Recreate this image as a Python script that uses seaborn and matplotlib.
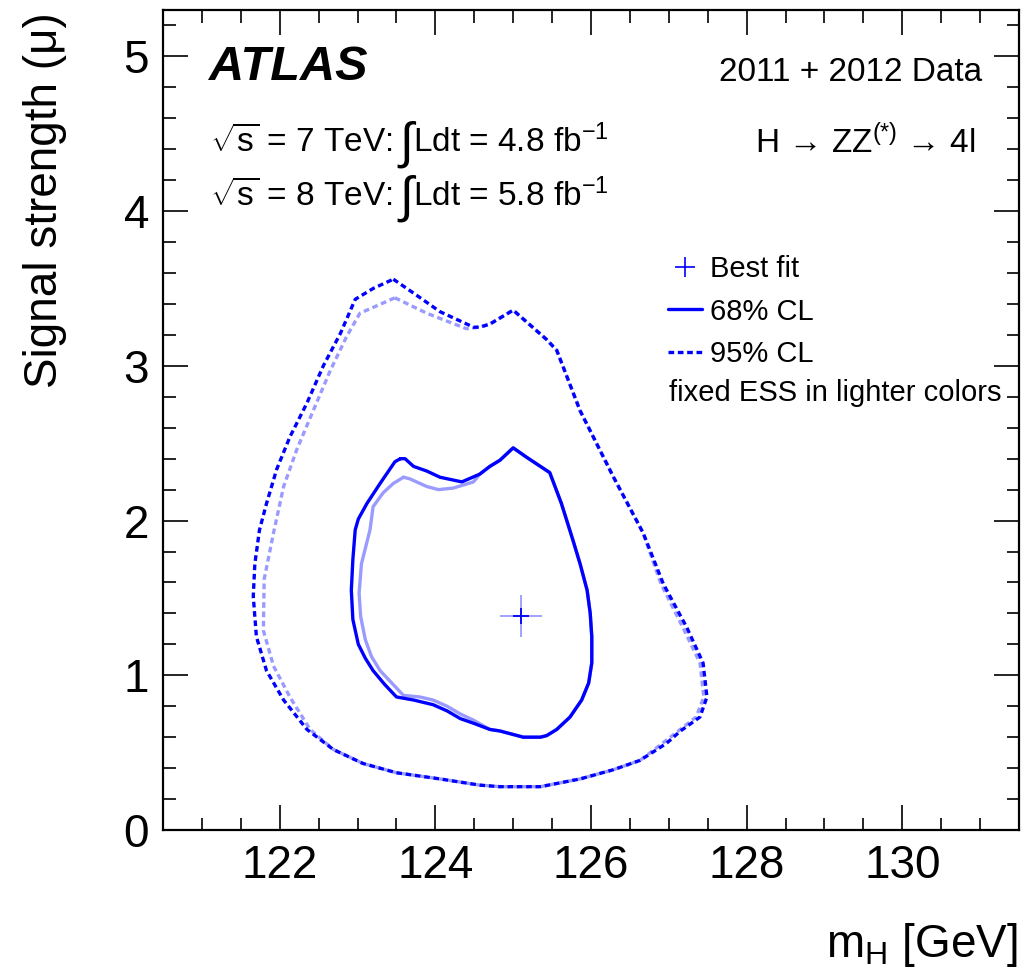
import numpy as np
import pandas as pd
import matplotlib
matplotlib.use("Agg")
import matplotlib.pyplot as plt
from matplotlib.lines import Line2D
import seaborn as sns

# ---------------- data ----------------
best_fit_mh = [125.1]
best_fit_mu = [1.38]

# 68% CL contour (nominal)
mh68 = [123.55, 123.61, 123.72, 123.89, 124.06, 124.34, 124.57, 124.70, 124.83, 125.00,
        125.17, 125.35, 125.47, 125.62, 125.77, 125.86, 125.95, 125.99, 126.01, 126.01,
        125.97, 125.88, 125.73, 125.56, 125.43, 125.35, 125.13, 124.83, 124.70, 124.49,
        124.32, 124.15, 123.97, 123.72, 123.50, 123.35, 123.20, 123.10, 123.01, 122.94,
        122.92, 122.94, 122.97, 123.01, 123.12, 123.29, 123.48, 123.55]
mu68 = [2.40, 2.40, 2.35, 2.32, 2.28, 2.25, 2.30, 2.35, 2.39, 2.47,
        2.41, 2.35, 2.31, 2.11, 1.87, 1.72, 1.55, 1.40, 1.25, 1.08,
        0.95, 0.84, 0.73, 0.65, 0.61, 0.60, 0.60, 0.64, 0.65, 0.69,
        0.72, 0.77, 0.81, 0.84, 0.86, 0.94, 1.03, 1.11, 1.20, 1.36,
        1.55, 1.75, 1.94, 2.01, 2.11, 2.24, 2.38, 2.40]

# 68% CL contour (fixed ESS in lighter colour)
mh68_fix = [123.59, 123.67, 123.89, 124.04, 124.23, 124.49, 124.57, 124.70, 124.83, 125.00,
            125.17, 125.35, 125.47, 125.62, 125.77, 125.86, 125.95, 125.99, 126.01, 126.01,
            125.97, 125.88, 125.73, 125.56, 125.43, 125.35, 125.13, 124.83, 124.70, 124.49,
            124.32, 124.15, 123.97, 123.80, 123.59, 123.44, 123.29, 123.18, 123.10, 123.04,
            123.02, 123.05, 123.16, 123.20, 123.33, 123.46, 123.59]
mu68_fix = [2.28, 2.27, 2.22, 2.20, 2.21, 2.25, 2.30, 2.35, 2.39, 2.47,
            2.41, 2.35, 2.31, 2.11, 1.87, 1.72, 1.55, 1.40, 1.25, 1.08,
            0.95, 0.84, 0.73, 0.65, 0.61, 0.60, 0.60, 0.64, 0.65, 0.71,
            0.75, 0.80, 0.84, 0.86, 0.87, 0.95, 1.03, 1.12, 1.23, 1.38,
            1.53, 1.72, 1.94, 2.09, 2.18, 2.24, 2.28]

# 95% CL contour (nominal)
mh95 = [123.46, 123.72, 124.06, 124.49, 124.57, 124.70, 125.00, 125.43, 125.56, 125.86,
        126.29, 126.67, 126.93, 127.23, 127.44, 127.49, 127.40, 127.15, 126.97, 126.63,
        126.29, 125.86, 125.35, 124.83, 124.57, 124.06, 123.50, 123.07, 122.69, 122.35,
        122.05, 121.83, 121.70, 121.66, 121.68, 121.74, 121.83, 121.96, 122.13, 122.35,
        122.56, 122.78, 122.97, 123.20, 123.46]
mu95 = [3.56, 3.47, 3.35, 3.25, 3.25, 3.27, 3.36, 3.17, 3.10, 2.71,
        2.28, 1.92, 1.59, 1.31, 1.08, 0.86, 0.73, 0.64, 0.56, 0.45,
        0.39, 0.33, 0.28, 0.28, 0.29, 0.33, 0.37, 0.43, 0.52, 0.65,
        0.84, 1.03, 1.25, 1.51, 1.72, 1.94, 2.11, 2.33, 2.54, 2.76,
        3.00, 3.21, 3.43, 3.50, 3.56]

# 95% CL contour (fixed ESS in lighter colour)
mh95_fix = [123.48, 123.89, 124.40, 124.57, 124.70, 125.00, 125.43, 125.56, 125.86,
            126.29, 126.67, 126.90, 127.18, 127.40, 127.45, 127.35, 127.02, 126.63,
            126.29, 125.86, 125.35, 124.83, 124.57, 124.06, 123.50, 123.07, 122.69,
            122.39, 122.13, 121.92, 121.79, 121.80, 121.92, 122.05, 122.22, 122.43,
            122.65, 122.86, 123.03, 123.48]
mu95_fix = [3.44, 3.34, 3.24, 3.25, 3.27, 3.36, 3.17, 3.10, 2.71,
            2.28, 1.92, 1.59, 1.31, 1.08, 0.86, 0.73, 0.60, 0.45,
            0.39, 0.33, 0.28, 0.28, 0.29, 0.33, 0.37, 0.43, 0.52,
            0.65, 0.86, 1.06, 1.29, 1.62, 1.92, 2.22, 2.46, 2.71,
            2.97, 3.19, 3.34, 3.44]

x_ticks = [122, 124, 126, 128, 130]
y_ticks = [0, 1, 2, 3, 4, 5]

# ---------------- style ----------------
sns.set_style("ticks")
plt.rcParams["font.family"] = ["Liberation Sans", "DejaVu Sans"]
plt.rcParams["mathtext.fontset"] = "custom"
plt.rcParams["mathtext.rm"] = "Liberation Sans"
plt.rcParams["mathtext.it"] = "Liberation Sans:italic"
plt.rcParams["mathtext.bf"] = "Liberation Sans:bold"
for k in ["text.color", "axes.labelcolor", "xtick.color", "ytick.color", "axes.edgecolor"]:
    plt.rcParams[k] = "black"

DARK = "#0000ff"
LIGHT = "#9b9bff"
DASH = (0, (1.7, 1.1))
LW = 2.4

W, H = 1023, 971
fig = plt.figure(figsize=(W / 100, H / 100), dpi=100)
ax = fig.add_axes([163 / W, 1 - 830 / H, (1019 - 163) / W, (830 - 10) / H])

def contour(xs, ys, color, ls):
    df = pd.DataFrame({"mH": xs, "mu": ys})
    sns.lineplot(data=df, x="mH", y="mu", sort=False, estimator=None, ax=ax,
                 color=color, linewidth=LW, linestyle=ls)

# lighter (fixed ESS) first, then nominal on top
contour(mh95_fix, mu95_fix, LIGHT, DASH)
contour(mh68_fix, mu68_fix, LIGHT, "-")
contour(mh95, mu95, DARK, DASH)
contour(mh68, mu68, DARK, "-")

bf = pd.DataFrame({"mH": best_fit_mh, "mu": best_fit_mu})
sns.scatterplot(data=bf, x="mH", y="mu", marker="+", s=900, color=LIGHT,
                linewidth=1.3, ax=ax, zorder=5)
sns.scatterplot(data=bf, x="mH", y="mu", marker="+", s=140, color=DARK,
                linewidth=1.3, ax=ax, zorder=6)

ax.set_xlim(120.5, 131.5)
ax.set_ylim(0, 5.3)
ax.set_xticks(x_ticks)
ax.set_yticks(y_ticks)
ax.set_xticklabels([str(t) for t in x_ticks])
ax.set_yticklabels([str(t) for t in y_ticks])
ax.xaxis.set_minor_locator(matplotlib.ticker.MultipleLocator(0.5))
ax.yaxis.set_minor_locator(matplotlib.ticker.MultipleLocator(0.2))
ax.tick_params(which="both", direction="in", top=True, right=True, width=1.2, colors="black")
ax.tick_params(which="major", length=18, labelsize=33, pad=10)
ax.tick_params(which="minor", length=9)
for s in ax.spines.values():
    s.set_linewidth(1.6)
    s.set_color("black")
ax.set_xlabel("")
ax.set_ylabel("")

fig.text(1018 / W, 1 - 945 / H, r"m$_{\mathrm{H}}$ [GeV]", fontsize=33,
         ha="right", va="center")
fig.text(45 / W, 1 - 12 / H, "Signal strength (\u03bc)", fontsize=33,
         rotation=90, ha="center", va="top")

fig.text(209 / W, 1 - 80 / H, "ATLAS", fontsize=35, fontweight="bold",
         fontstyle="italic", ha="left", va="baseline")

renderer = fig.canvas.get_renderer()

def lumi_row(y_px, energy, lumi):
    y = 1 - y_px / H
    t1 = fig.text(210 / W, y, r"$\sqrt{\mathrm{s}}$ = %s TeV:" % energy,
                  fontsize=24, ha="left", va="baseline")
    x1 = t1.get_window_extent(renderer).x1
    t2 = fig.text((x1 + 7) / W, y - 6 / H, "\u222b", fontsize=36, ha="left",
                  va="baseline")
    x2 = t2.get_window_extent(renderer).x1
    fig.text((x2 - 1) / W, y, r"Ldt = %s fb$^{-1}$" % lumi, fontsize=24,
             ha="left", va="baseline")

lumi_row(152, "7", "4.8")
lumi_row(206, "8", "5.8")

fig.text(982 / W, 1 - 81 / H, "2011 + 2012 Data", fontsize=24,
         ha="right", va="baseline")
fig.text(975 / W, 1 - 153 / H, "H \u2192 ZZ$^{(*)}$ \u2192 4l",
         fontsize=24, ha="right", va="baseline")

handles = [
    Line2D([], [], color=DARK, marker="+", markersize=14, linestyle="none",
           markeredgewidth=1.2),
    Line2D([], [], color=DARK, linewidth=LW, linestyle="-"),
    Line2D([], [], color=DARK, linewidth=LW, linestyle=DASH),
]
fig.legend(handles, ["Best fit", "68% CL", "95% CL"], loc="upper left",
           bbox_to_anchor=(668 / W, 1 - 255 / H), frameon=False,
           fontsize=21, handlelength=1.15, handletextpad=0.3,
           labelspacing=0.5, borderpad=0, borderaxespad=0)
fig.text(669 / W, 1 - 393 / H, "fixed ESS in lighter colors", fontsize=21,
         ha="left", va="center")

fig.savefig("out.png", dpi=100)
